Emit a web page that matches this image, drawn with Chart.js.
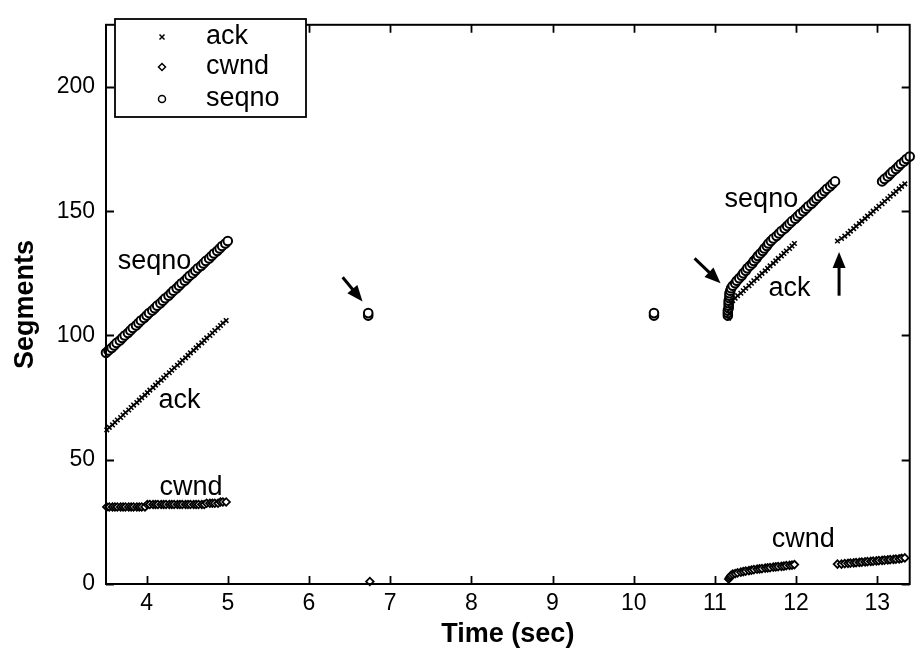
<!DOCTYPE html>
<html>
<head>
<meta charset="utf-8">
<script src="https://cdn.jsdelivr.net/npm/chart.js@4.4.0/dist/chart.umd.min.js"></script>
<style>
  html, body { margin: 0; padding: 0; background: #fff; }
  #wrap { width: 916px; height: 653px; }
</style>
</head>
<body>
<div id="wrap"><canvas id="tcpChart" width="916" height="653"></canvas></div>
<script>
// --- data (time in sec, value in segments) ---
const xTicks = [4, 5, 6, 7, 8, 9, 10, 11, 12, 13];
const yTicks = [0, 50, 100, 150, 200];

// sequence numbers sent
const seqnoTime = [
  3.50,3.53,3.57,3.60,3.63,3.67,3.70,3.73,3.77,3.80,3.83,3.87,3.90,3.93,3.97,4.00,4.03,4.07,4.10,4.13,4.17,4.20,4.23,
  4.27,4.30,4.33,4.37,4.40,4.43,4.47,4.50,4.53,4.57,4.60,4.63,4.67,4.70,4.73,4.77,4.80,4.83,4.87,4.90,4.93,4.97,5.00,
  6.73,6.73,
  10.25,10.25,
  11.16,11.16,11.16,11.17,11.17,11.17,11.17,11.18,11.18,11.18,11.19,
  11.20,11.22,11.25,11.27,11.30,11.33,11.35,11.38,11.40,11.43,11.46,11.48,11.51,11.53,11.56,11.59,11.61,11.64,11.66,11.69,
  11.72,11.76,11.79,11.82,11.86,11.89,11.92,11.95,11.99,12.02,12.05,12.09,12.12,12.15,12.19,12.22,12.25,12.28,12.32,12.35,
  12.38,12.42,12.45,12.48,
  13.06,13.09,13.13,13.16,13.19,13.23,13.26,13.29,13.33,13.36,13.40
];
const seqnoSeg = [
  93,94,95,96,97,98,99,100,101,102,103,104,105,106,107,108,109,110,111,112,113,114,115,
  116,117,118,119,120,121,122,123,124,125,126,127,128,129,130,131,132,133,134,135,136,137,138,
  108,109,
  108,109,
  108,109,110,111,112,113,114,115,116,117,118,
  119,120,121,122,123,124,125,126,127,128,129,130,131,132,133,134,135,136,137,138,
  139,140,141,142,143,144,145,146,147,148,149,150,151,152,153,154,155,156,157,158,
  159,160,161,162,
  162,163,164,165,166,167,168,169,170,171,172
];

// acks received
const ackTime = [
  3.51,3.54,3.58,3.61,3.64,3.68,3.71,3.74,3.78,3.81,3.84,3.88,3.91,3.94,3.98,4.01,4.04,4.08,4.11,4.14,4.18,4.21,4.24,
  4.28,4.31,4.34,4.38,4.41,4.44,4.48,4.51,4.54,4.58,4.61,4.64,4.68,4.71,4.74,4.78,4.81,4.84,4.88,4.91,4.94,4.98,
  11.17,11.18,11.19,11.20,
  11.22,11.25,11.28,11.32,11.35,11.38,11.42,11.45,11.48,11.52,11.55,11.58,11.62,11.65,11.68,11.72,11.75,11.78,11.82,
  11.85,11.88,11.92,11.95,11.98,
  12.51,12.56,12.60,12.64,12.67,12.71,12.74,12.78,12.81,12.85,12.88,12.92,12.95,12.99,13.02,13.06,13.09,13.13,13.16,
  13.20,13.23,13.27,13.30,13.34
];
const ackSeg = [
  62,63,64,65,66,67,68,69,70,71,72,73,74,75,76,77,78,79,80,81,82,83,84,
  85,86,87,88,89,90,91,92,93,94,95,96,97,98,99,100,101,102,103,104,105,106,
  107,109,111,113,
  114,115,116,117,118,119,120,121,122,123,124,125,126,127,128,129,130,131,132,
  133,134,135,136,137,
  138,139,140,141,142,143,144,145,146,147,148,149,150,151,152,153,154,155,156,
  157,158,159,160,161
];

// congestion window (sampled on each ack, plus the lone point after the timeout)
const cwndTime = ackTime.slice(0, 45).concat([6.75], ackTime.slice(45));
const cwndSeg = [
  31,31,31,31,31,31,31,31,31,31,31,31,31,31,31,32,32,32,32,32,32,32,32,
  32,32,32,32,32,32,32,32,32,32,32,32,32,32,32.5,32.5,32.5,32.5,32.5,33,33,33,
  1,
  2,2.5,3,3.5,
  4,4.2,4.5,4.8,5,5.2,5.4,5.6,5.8,6,6.1,6.2,6.4,6.5,6.6,6.8,6.9,7,7.1,
  7.2,7.4,7.5,7.6,7.8,
  8,8,8.2,8.3,8.4,8.5,8.6,8.7,8.8,8.9,9,9.1,9.2,9.3,9.4,9.5,9.6,9.7,9.8,
  9.9,10,10.1,10.3,10.5
];

// in-plot labels and arrows, in data coordinates
const labelText = ['seqno', 'ack', 'cwnd', 'seqno', 'ack', 'cwnd'];
const labelX = [3.645, 4.147, 4.16, 11.12, 11.66, 11.70];
const labelY = [129.7, 73.8, 38.7, 154.7, 118.8, 18];
const arrowFrom = [[6.415, 123.4], [10.75, 131], [12.53, 116]];
const arrowTo = [[6.66, 113.7], [11.07, 121], [12.53, 133.6]];

function toPoints(xs, ys) {
    return xs.map((x, i) => ({ x: x, y: ys[i] }));
}

const FONT = "'Liberation Sans', Arial, Helvetica, sans-serif";

// frame, inward ticks on all four sides, legend, labels, arrows
const matlabDecor = {
    id: 'matlabDecor',
    afterDatasetsDraw(chart) {
        const ctx = chart.ctx;
        const a = chart.chartArea;
        const xs = chart.scales.x;
        const ys = chart.scales.y;
        const tl = 8;

        ctx.save();
        ctx.strokeStyle = '#000';
        ctx.lineWidth = 2;
        ctx.strokeRect(a.left, a.top, a.right - a.left, a.bottom - a.top);

        ctx.lineWidth = 1.8;
        ctx.beginPath();
        xTicks.forEach(v => {
            const px = Math.round(xs.getPixelForValue(v)) + 0.5;
            ctx.moveTo(px, a.bottom); ctx.lineTo(px, a.bottom - tl);
            ctx.moveTo(px, a.top); ctx.lineTo(px, a.top + tl);
        });
        yTicks.forEach(v => {
            const py = Math.round(ys.getPixelForValue(v)) + 0.5;
            ctx.moveTo(a.left, py); ctx.lineTo(a.left + tl, py);
            ctx.moveTo(a.right, py); ctx.lineTo(a.right - tl, py);
        });
        ctx.stroke();

        // text labels beside the traces
        ctx.fillStyle = '#000';
        ctx.font = '27px ' + FONT;
        ctx.textAlign = 'left';
        ctx.textBaseline = 'middle';
        labelText.forEach((t, i) => {
            ctx.fillText(t, xs.getPixelForValue(labelX[i]), ys.getPixelForValue(labelY[i]));
        });

        // arrows
        arrowFrom.forEach((f, i) => {
            const x0 = xs.getPixelForValue(f[0]), y0 = ys.getPixelForValue(f[1]);
            const x1 = xs.getPixelForValue(arrowTo[i][0]), y1 = ys.getPixelForValue(arrowTo[i][1]);
            const ang = Math.atan2(y1 - y0, x1 - x0);
            const hl = 16, hw = 6.5;
            ctx.lineWidth = 3;
            ctx.beginPath();
            ctx.moveTo(x0, y0);
            ctx.lineTo(x1 - Math.cos(ang) * hl * 0.8, y1 - Math.sin(ang) * hl * 0.8);
            ctx.stroke();
            ctx.beginPath();
            ctx.moveTo(x1, y1);
            ctx.lineTo(x1 - Math.cos(ang) * hl - Math.sin(ang) * hw, y1 - Math.sin(ang) * hl + Math.cos(ang) * hw);
            ctx.lineTo(x1 - Math.cos(ang) * hl + Math.sin(ang) * hw, y1 - Math.sin(ang) * hl - Math.cos(ang) * hw);
            ctx.closePath();
            ctx.fill();
        });

        // legend box (top left, inside the axes)
        const lx = 115, ly = 19, lw = 191, lh = 98;
        ctx.fillStyle = '#fff';
        ctx.fillRect(lx, ly, lw, lh);
        ctx.lineWidth = 1.8;
        ctx.strokeRect(lx, ly, lw, lh);
        const rows = [37, 67, 99];
        const mx = 162;
        ctx.fillStyle = '#000';
        ctx.font = '27px ' + FONT;
        chart.data.datasets.forEach((ds, i) => {
            const y = rows[i];
            ctx.lineWidth = 1.5;
            ctx.beginPath();
            if (ds.pointStyle === 'crossRot') {
                ctx.moveTo(mx - 2.5, y - 2.5); ctx.lineTo(mx + 2.5, y + 2.5);
                ctx.moveTo(mx + 2.5, y - 2.5); ctx.lineTo(mx - 2.5, y + 2.5);
            } else if (ds.pointStyle === 'rectRot') {
                ctx.moveTo(mx, y - 3.5); ctx.lineTo(mx + 3.5, y);
                ctx.lineTo(mx, y + 3.5); ctx.lineTo(mx - 3.5, y); ctx.closePath();
            } else {
                ctx.arc(mx, y, 3.5, 0, Math.PI * 2);
            }
            ctx.stroke();
            ctx.fillText(ds.label, 206, y);
        });
        ctx.restore();
    }
};

const ctx = document.getElementById('tcpChart').getContext('2d');
const tcpChart = new Chart(ctx, {
    type: 'scatter',
    data: {
        datasets: [
            {
                label: 'ack',
                data: toPoints(ackTime, ackSeg),
                pointStyle: 'crossRot',
                pointRadius: 3.2,
                borderColor: '#000',
                backgroundColor: '#000',
                pointBorderWidth: 1.6,
                clip: false,
                order: 1
            },
            {
                label: 'cwnd',
                data: toPoints(cwndTime, cwndSeg),
                pointStyle: 'rectRot',
                pointRadius: 3.8,
                borderColor: '#000',
                backgroundColor: '#fff',
                pointBorderWidth: 1.8,
                clip: false,
                order: 2
            },
            {
                label: 'seqno',
                data: toPoints(seqnoTime, seqnoSeg),
                pointStyle: 'circle',
                pointRadius: 4.3,
                borderColor: '#000',
                backgroundColor: '#fff',
                pointBorderWidth: 2,
                clip: false,
                order: 3
            }
        ]
    },
    options: {
        responsive: false,
        animation: false,
        events: [],
        layout: { padding: { top: 9, right: 3, left: 0, bottom: 0 } },
        plugins: {
            legend: { display: false },
            tooltip: { enabled: false }
        },
        scales: {
            x: {
                type: 'linear',
                min: 3.5,
                max: 13.4,
                grid: { display: false, drawTicks: false },
                border: { display: false },
                afterBuildTicks: s => { s.ticks = xTicks.map(v => ({ value: v })); },
                afterFit: s => { s.height = 69; },
                ticks: {
                    padding: 6,
                    color: '#000',
                    font: { family: FONT, size: 23 },
                    maxRotation: 0,
                    autoSkip: false
                },
                title: {
                    display: true,
                    text: 'Time (sec)',
                    color: '#000',
                    font: { family: FONT, size: 27, weight: 'bold' },
                    padding: { top: 0, bottom: 2 }
                }
            },
            y: {
                min: 0,
                max: 225,
                grid: { display: false, drawTicks: false },
                border: { display: false },
                afterBuildTicks: s => { s.ticks = yTicks.map(v => ({ value: v })); },
                afterFit: s => { s.width = 106; },
                ticks: {
                    padding: 11,
                    color: '#000',
                    font: { family: FONT, size: 23 }
                },
                title: {
                    display: true,
                    text: 'Segments',
                    color: '#000',
                    font: { family: FONT, size: 27, weight: 'bold' },
                    padding: { top: 9, bottom: 0 }
                }
            }
        }
    },
    plugins: [matlabDecor]
});
</script>
</body>
</html>
